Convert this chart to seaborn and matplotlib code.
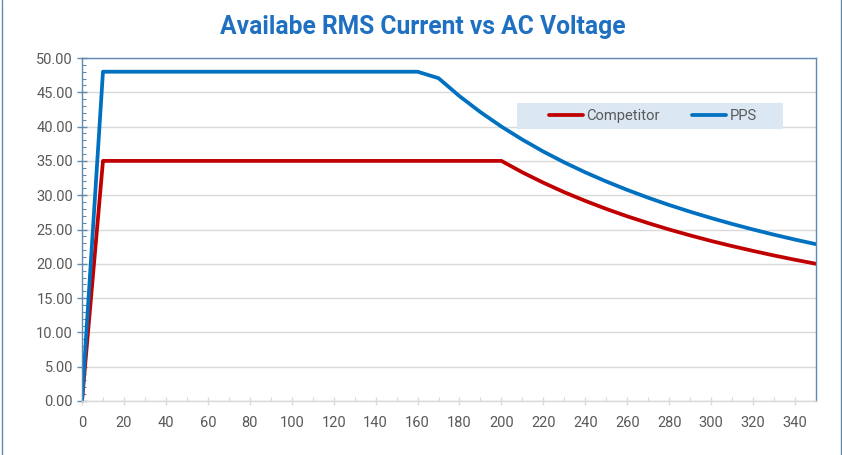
import numpy as np
import pandas as pd
import matplotlib
matplotlib.use("Agg")
import matplotlib.pyplot as plt
import seaborn as sns
from matplotlib.ticker import MultipleLocator, FormatStrFormatter
from matplotlib.lines import Line2D
from matplotlib.patches import Rectangle

voltage = [0, 10, 20, 30, 40, 50, 60, 70, 80, 90, 100, 110, 120, 130, 140, 150,
           160, 170, 180, 190, 200, 210, 220, 230, 240, 250, 260, 270, 280, 290,
           300, 310, 320, 330, 340, 350]
competitor = [0, 35, 35, 35, 35, 35, 35, 35, 35, 35, 35, 35, 35, 35, 35, 35,
              35, 35, 35, 35, 35, 33.33, 31.82, 30.43, 29.17, 28.00, 26.92, 25.93,
              25.00, 24.14, 23.33, 22.58, 21.88, 21.21, 20.59, 20.00]
pps = [0, 48, 48, 48, 48, 48, 48, 48, 48, 48, 48, 48, 48, 48, 48, 48,
       48, 47.06, 44.44, 42.11, 40.00, 38.10, 36.36, 34.78, 33.33, 32.00, 30.77,
       29.63, 28.57, 27.59, 26.67, 25.81, 25.00, 24.24, 23.53, 22.86]
series_names = ["Competitor", "PPS"]
title = "Availabe RMS Current vs AC Voltage"

df = pd.DataFrame({
    "Voltage": voltage * 2,
    "Current": competitor + pps,
    "Series": [series_names[0]] * len(voltage) + [series_names[1]] * len(voltage),
})

sns.set_theme(style="white")
plt.rcParams["font.family"] = ["Roboto", "DejaVu Sans"]

W, H = 842, 455
fig = plt.figure(figsize=(W / 100, H / 100), dpi=100)
ax = fig.add_axes([82 / W, 1 - 401 / H, (816 - 82) / W, (401 - 58) / H])

palette = {"Competitor": "#C00000", "PPS": "#0070C0"}
sns.lineplot(data=df, x="Voltage", y="Current", hue="Series", palette=palette,
             linewidth=2.7, ax=ax, legend=False)

ax.set_xlim(0, 350)
ax.set_ylim(0, 50)
ax.set_xlabel("")
ax.set_ylabel("")
ax.xaxis.set_minor_locator(MultipleLocator(10))
ax.yaxis.set_major_locator(MultipleLocator(5))
ax.yaxis.set_minor_locator(MultipleLocator(1))
ax.yaxis.set_major_formatter(FormatStrFormatter("%.2f"))
ax.set_xticks([t for t in range(0, 341, 20)])

ax.yaxis.grid(True, color="#D9D9D9", linewidth=1.0)
ax.xaxis.grid(False)
ax.set_axisbelow(True)

axis_col = "#5F8AAE"
for s in ["left", "top", "right"]:
    ax.spines[s].set_color(axis_col)
    ax.spines[s].set_linewidth(1.0)
ax.spines["bottom"].set_color("#D9D9D9")
ax.spines["bottom"].set_linewidth(1.0)

ax.tick_params(axis="y", which="major", direction="inout", length=7, width=1,
               color=axis_col, labelsize=10.5, labelcolor="#595959", pad=3, left=True)
ax.tick_params(axis="y", which="minor", direction="in", length=3, width=0.8,
               color=axis_col, left=True)
ax.tick_params(axis="x", which="major", direction="inout", length=6, width=1,
               color="#D9D9D9", labelsize=10.5, labelcolor="#595959", pad=8, bottom=True)
ax.tick_params(axis="x", which="minor", direction="in", length=3, width=0.8,
               color="#D9D9D9", bottom=True)

fig.text(423 / W, 1 - 27 / H, title, ha="center", va="center",
         fontsize=17.7, fontweight="bold", color="#1F70C1")

# legend background box
bg = Rectangle((517 / W, 1 - 129 / H), (783 - 517) / W, (129 - 103) / H,
               transform=fig.transFigure, facecolor="#DCE7F4",
               edgecolor="none", zorder=4, clip_on=False)
ax.add_patch(bg)
handles = [Line2D([0], [0], color=palette[n], linewidth=2.7) for n in series_names]
leg = ax.legend(handles, series_names, loc="center",
                bbox_to_anchor=((653 - 82) / (816 - 82), (401 - 116) / (401 - 58)),
                ncol=2, frameon=False, fontsize=10.6, handlelength=2.3,
                handletextpad=0.25, columnspacing=2.2, borderpad=0.3,
                labelcolor="#595959")
leg.set_zorder(6)

fig.add_artist(Line2D([1.5 / W, 1.5 / W], [0, 1], transform=fig.transFigure,
                      color=axis_col, linewidth=1.0))
fig.add_artist(Line2D([840.5 / W, 840.5 / W], [0, 1], transform=fig.transFigure,
                      color=axis_col, linewidth=1.0))

fig.savefig("out.png", dpi=100)
